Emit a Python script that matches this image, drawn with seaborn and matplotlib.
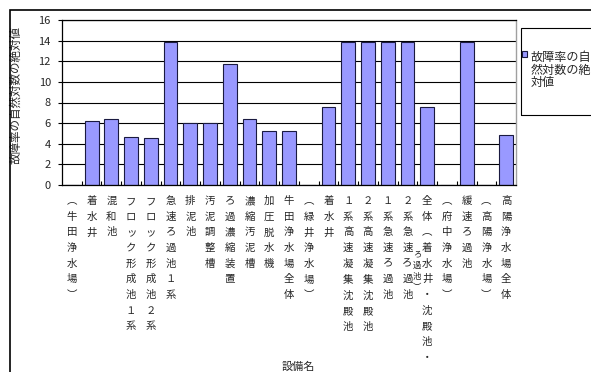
import matplotlib
matplotlib.use("Agg")
import matplotlib.pyplot as plt
import matplotlib.transforms as mtransforms
from matplotlib.patches import Rectangle
import pandas as pd
import seaborn as sns

# data
facilities = ["（牛田浄水場）", "着水井", "混和池", "フロック形成池１系", "フロック形成池２系",
              "急速ろ過池１系", "排泥池", "汚泥調整槽", "ろ過濃縮装置", "濃縮汚泥槽",
              "加圧脱水機", "牛田浄水場全体", "（緑井浄水場）", "着水井",
              "１系高速凝集沈殿池", "２系高速凝集沈殿池", "１系急速ろ過池", "２系急速ろ過池",
              "全体（着水井・沈殿池・ろ過池）", "（府中浄水場）", "緩速ろ過池",
              "（高陽浄水場）", "高陽浄水場全体"]
values = [0, 6.23, 6.36, 4.64, 4.51, 13.86, 6.04, 6.04, 11.75, 6.36, 5.26, 5.26,
          0, 7.56, 13.86, 13.86, 13.86, 13.86, 7.56, 0, 13.86, 0, 4.84]
y_ticks = [0, 2, 4, 6, 8, 10, 12, 14, 16]
y_label = "故障率の自然対数の絶対値"
x_label = "設備名"
legend_label = "故障率の自\n然対数の絶\n対値"

sns.set_style("white")
plt.rcParams['font.family'] = ['Noto Sans CJK JP', 'DejaVu Sans']

df = pd.DataFrame({"id": [str(i) for i in range(len(facilities))],
                   "name": facilities, "value": values})

fig = plt.figure(figsize=(5.91, 3.72), dpi=100)
ax = fig.add_axes([62 / 591, 1 - 185 / 372, 454 / 591, 165 / 372])

sns.barplot(data=df, x="id", y="value", order=df["id"], color="#9999FF",
            saturation=1, width=0.7, edgecolor="#1a1a40", linewidth=0.8,
            label=legend_label, ax=ax, legend=False)


# vertical (tategaki) tick labels; long labels overflow like the original
def vertical(text, max_chars=11):
    t = text.replace("（", "︵").replace("）", "︶")
    return "\n".join(t[:max_chars]), t[max_chars:]


tick_labels = []
for i, name in enumerate(facilities):
    shown, rest = vertical(name)
    tick_labels.append(shown)
    if rest:
        trans = mtransforms.blended_transform_factory(ax.transData, ax.transAxes)
        ax.text(i - 0.5, -0.39, "\n".join(rest), transform=trans, fontsize=6,
                ha="center", va="top", linespacing=1.3, color="#222222")

ax.set_xticks(range(len(facilities)))
ax.set_xticklabels(tick_labels, fontsize=7.5, linespacing=1.7, va="top")
ax.set_xticks([i + 0.5 for i in range(len(facilities) - 1)], minor=True)
ax.tick_params(axis="x", which="major", length=0, pad=8)
ax.tick_params(axis="x", which="minor", direction="in", length=3, width=0.8,
               color="black", bottom=True)

ax.set_ylim(0, 16)
ax.set_yticks(y_ticks)
ax.tick_params(axis="y", labelsize=8, length=3, width=0.8, color="black",
               left=True, pad=5)
ax.set_xlim(-0.5, len(facilities) - 0.5)

ax.grid(axis="y", color="black", linewidth=0.8)
ax.set_axisbelow(True)
for side in ["left", "bottom", "top"]:
    ax.spines[side].set_color("black")
    ax.spines[side].set_linewidth(0.9)
ax.spines["right"].set_color("#a0a0a0")
ax.spines["right"].set_linewidth(1)

ax.set_ylabel(y_label, fontsize=8.3)
ax.yaxis.set_label_coords(-0.088, 0.545)
ax.set_xlabel(x_label, fontsize=8)
ax.xaxis.set_label_coords(0.52, -1.07)

# legend box (clipped at the right edge as in the original)
fig.patches.append(Rectangle((521 / 591, 1 - 115 / 372), 0.2, 87 / 372,
                             transform=fig.transFigure, fill=False,
                             edgecolor="black", linewidth=0.8))
leg = ax.legend(loc="upper left", bbox_to_anchor=(522 / 591, 1 - 51 / 372),
                bbox_transform=fig.transFigure, frameon=False, fontsize=8.7,
                handlelength=0.45, handleheight=0.45, handletextpad=0.25,
                borderpad=0, borderaxespad=0, labelspacing=0)
leg.get_texts()[0].set_linespacing(0.95)
for row in leg._legend_handle_box.get_children():
    for entry in row.get_children():
        entry.align = "top"

# outer chart border
fig.patches.append(Rectangle((10 / 591, -0.1), 1.1, 1.1 - 10 / 372,
                             transform=fig.transFigure, fill=False,
                             edgecolor="black", linewidth=1.2))

fig.savefig("out.png", dpi=100)
